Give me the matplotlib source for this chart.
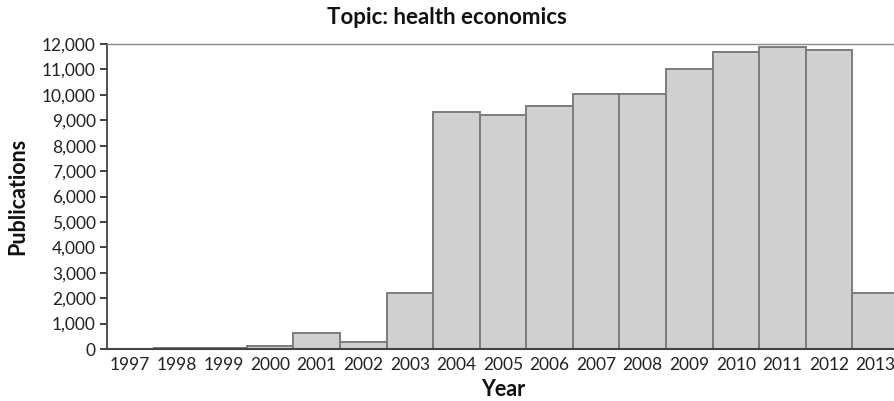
import matplotlib
matplotlib.use("Agg")
import matplotlib.pyplot as plt
from matplotlib.ticker import FuncFormatter

years = [1997, 1998, 1999, 2000, 2001, 2002, 2003, 2004, 2005, 2006, 2007, 2008,
         2009, 2010, 2011, 2012, 2013]
publications = [0, 40, 40, 130, 640, 265, 2215, 9325, 9190, 9560, 10020, 10020,
                11005, 11670, 11870, 11765, 2190]
yticks = list(range(0, 12001, 1000))

plt.rcParams['font.family'] = ['Lato', 'DejaVu Sans']

fig = plt.figure(figsize=(8.95, 4.01), dpi=100)
W, H = 895, 401
left_px, right_px = 107, 899
top_px, bottom_px = 44, 349
ax = fig.add_axes([left_px / W, 1 - bottom_px / H,
                   (right_px - left_px) / W, (bottom_px - top_px) / H])

ax.bar(years, publications, width=1.0, color='#d0d0d0', edgecolor='#7c7c7c',
       linewidth=1.4, zorder=2)
ax.set_xlim(1996.5, 2013.5)
ax.set_ylim(0, 12000)
ax.set_yticks(yticks)
ax.yaxis.set_major_formatter(FuncFormatter(lambda v, p: f"{int(v):,}"))
ax.set_xticks(years)
ax.set_xticklabels([str(y) for y in years])
for lbl in ax.get_xticklabels()[-1:]:
    lbl.set_horizontalalignment('center')
ax.tick_params(axis='x', length=0, labelsize=12.5, pad=6, colors='#222222')
ax.tick_params(axis='y', length=5, width=1.2, labelsize=12.5, colors='#222222', direction='out', pad=3)

ax.spines['right'].set_visible(False)
ax.spines['top'].set_color('#888888')
ax.spines['top'].set_linewidth(1.0)
ax.spines['left'].set_color('#444444')
ax.spines['left'].set_linewidth(1.3)
ax.spines['bottom'].set_color('#444444')
ax.spines['bottom'].set_linewidth(1.5)

fig.text(447 / W, 1 - 17 / H, 'Topic: health economics', ha='center', va='center',
         fontsize=16, fontweight='bold', color='#111111')
fig.text(503 / W, 1 - 389 / H, 'Year', ha='center', va='center',
         fontsize=15.5, fontweight='bold', color='#111111')
fig.text(18 / W, 1 - 196 / H, 'Publications', ha='center', va='center', rotation=90,
         fontsize=15.5, fontweight='bold', color='#111111')

fig.savefig('out.png', dpi=100)
